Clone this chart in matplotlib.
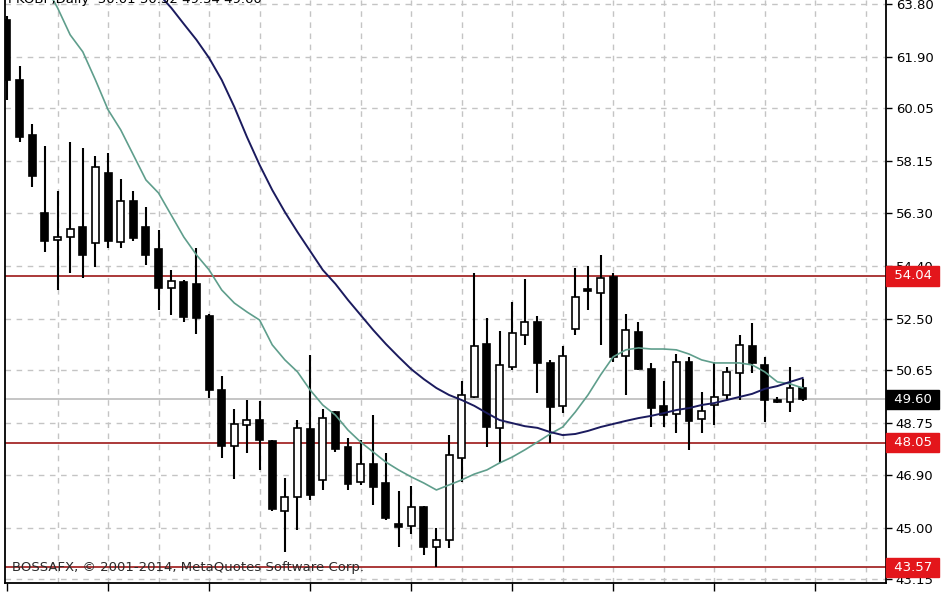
import matplotlib
matplotlib.use("Agg")
import matplotlib.pyplot as plt
import matplotlib.transforms as mtransforms

# daily candles
opens = [63.23, 61.07, 59.09, 56.30, 55.33, 55.43, 55.79, 55.22, 57.73, 55.25,
         56.73, 55.79, 55.00, 53.60, 53.82, 53.75, 52.60, 49.94, 47.93, 48.68,
         48.86, 48.11, 45.60, 46.10, 48.54, 46.71, 49.15, 47.89, 46.64, 47.28,
         46.60, 45.13, 45.06, 45.74, 44.30, 44.55, 47.50, 49.69, 51.59, 48.58,
         50.77, 51.92, 52.38, 50.91, 49.37, 52.13, 53.57, 53.42, 54.00, 51.16,
         52.02, 50.69, 49.37, 49.08, 50.95, 48.90, 49.40, 49.76, 50.55, 51.52,
         50.84, 49.56, 49.51, 50.01]
highs = [63.35, 61.57, 59.49, 58.70, 57.09, 58.84, 58.63, 58.34, 58.45, 57.52,
         57.09, 56.51, 55.69, 54.25, 53.89, 55.04, 52.65, 50.44, 49.26, 49.58,
         49.55, 48.15, 46.78, 48.86, 51.20, 49.26, 49.20, 48.22, 48.14, 49.04,
         47.68, 46.31, 46.49, 45.78, 44.98, 48.32, 50.26, 54.14, 52.53, 52.06,
         53.10, 53.93, 52.60, 51.02, 51.52, 54.32, 54.39, 54.79, 54.14, 52.67,
         52.38, 50.91, 50.26, 51.23, 51.13, 49.87, 50.95, 50.77, 51.91, 52.35,
         51.13, 49.69, 50.77, 50.32]
lows = [60.35, 58.84, 57.23, 54.90, 53.53, 54.14, 53.96, 54.36, 55.04, 55.04,
        55.29, 54.43, 52.81, 52.63, 52.38, 51.95, 49.65, 47.50, 46.74, 47.68,
        47.07, 45.60, 44.12, 44.91, 45.99, 46.35, 47.71, 46.35, 46.53, 45.81,
        45.27, 44.30, 44.77, 44.02, 43.59, 44.27, 46.64, 49.65, 47.89, 47.32,
        50.66, 51.56, 49.83, 48.04, 49.11, 51.91, 52.81, 51.56, 50.95, 49.76,
        50.66, 48.61, 48.61, 48.40, 47.79, 48.40, 48.68, 49.58, 49.58, 50.55,
        48.79, 49.47, 49.15, 49.54]
closes = [61.07, 59.02, 57.62, 55.29, 55.43, 55.72, 54.79, 57.95, 55.29, 56.73,
          55.40, 54.79, 53.60, 53.85, 52.56, 52.53, 49.94, 47.93, 48.72, 48.86,
          48.14, 45.67, 46.10, 48.58, 46.17, 48.93, 47.82, 46.56, 47.28, 46.46,
          45.34, 45.02, 45.74, 44.30, 44.55, 47.61, 49.76, 51.52, 48.61, 50.84,
          51.99, 52.38, 50.91, 49.33, 51.16, 53.28, 53.50, 53.96, 51.13, 52.09,
          50.69, 49.29, 49.04, 50.95, 48.83, 49.19, 49.69, 50.59, 51.56, 50.91,
          49.58, 49.52, 50.01, 49.60]

# moving averages as they appear on the chart
fast_ma_start = 3
fast_ma = [64.48, 63.66, 62.69, 62.08, 61.07, 60.00, 59.28, 58.38, 57.48, 57.01,
           56.22, 55.43, 54.79, 54.25, 53.53, 53.06, 52.74, 52.45, 51.56, 51.02,
           50.59, 49.94, 49.40, 49.04, 48.50, 48.07, 47.71, 47.35, 47.07, 46.82,
           46.60, 46.35, 46.53, 46.71, 46.92, 47.07, 47.32, 47.53, 47.79, 48.07,
           48.36, 48.61, 49.15, 49.76, 50.48, 51.13, 51.38, 51.45, 51.41, 51.41,
           51.38, 51.23, 51.02, 50.91, 50.91, 50.91, 50.84, 50.59, 50.23, 50.16,
           50.01]
slow_ma_start = 12
slow_ma = [64.16, 63.66, 63.08, 62.51, 61.86, 61.07, 60.10, 59.02, 58.02, 57.12,
           56.33, 55.61, 54.93, 54.25, 53.75, 53.17, 52.63, 52.09, 51.59, 51.13,
           50.69, 50.33, 50.01, 49.76, 49.58, 49.37, 49.11, 48.86, 48.75, 48.64,
           48.58, 48.43, 48.32, 48.36, 48.47, 48.61, 48.72, 48.83, 48.93, 49.01,
           49.11, 49.22, 49.29, 49.40, 49.47, 49.58, 49.69, 49.80, 49.98, 50.08,
           50.23, 50.37]

price_ticks = [43.15, 45.00, 46.90, 48.75, 50.65, 52.50, 54.40, 56.30, 58.15,
               60.05, 61.90, 63.80]
levels = [54.04, 48.05, 43.57]
last_price = 49.60

fig = plt.figure(figsize=(9.48, 5.93), dpi=100)
ax = fig.add_axes([5 / 948, 1 - 583 / 593, 881 / 948, 583 / 593])
ax.set_xlim(-0.16, 69.6)
ax.set_ylim(43.01, 63.94)

# grid
for p in price_ticks:
    ax.axhline(p, color="#c4c4c4", lw=1, ls=(0, (4, 4)), zorder=0)
for g in range(4, 70, 4):
    ax.axvline(g, color="#c4c4c4", lw=1, ls=(0, (4, 4)), zorder=0)

# support / resistance and last price
for lv in levels:
    ax.axhline(lv, color="#a52a2a", lw=1.3, zorder=1)
ax.axhline(last_price, color="#c0c0c0", lw=1.3, zorder=1)

# candles
idx = list(range(len(opens)))
ax.vlines(idx, lows, highs, color="black", lw=1.5, zorder=2)
bottoms = [min(o, c) for o, c in zip(opens, closes)]
heights = [max(abs(c - o), 0.05) for o, c in zip(opens, closes)]
faces = ["white" if c > o else "black" for o, c in zip(opens, closes)]
ax.bar(idx, heights, bottom=bottoms, width=0.55, color=faces,
       edgecolor="black", linewidth=1.2, zorder=3)

# moving averages
ax.plot(range(fast_ma_start, fast_ma_start + len(fast_ma)), fast_ma,
        color="#5f9e8c", lw=1.2, zorder=4)
ax.plot(range(slow_ma_start, slow_ma_start + len(slow_ma)), slow_ma,
        color="#1b1b5e", lw=1.4, zorder=4)

# axes look
ax.spines["top"].set_visible(False)
for side in ["left", "right", "bottom"]:
    ax.spines[side].set_color("black")
    ax.spines[side].set_linewidth(1.3)
ax.yaxis.tick_right()
ax.set_yticks(price_ticks)
ax.set_yticklabels([f"{p:.2f}" for p in price_ticks])
ax.tick_params(axis="y", direction="out", length=4, width=1, labelsize=9.5,
               pad=3, colors="black")
ax.set_xticks(range(0, 70, 8))
ax.set_xticklabels([])
ax.tick_params(axis="x", direction="out", length=6, width=1)

trans = mtransforms.blended_transform_factory(ax.transAxes, ax.transData)
for lv in levels:
    ax.text(1.004, lv, f" {lv:.2f} ", transform=trans, ha="left", va="center",
            fontsize=9.5, color="white", zorder=10, clip_on=False,
            bbox=dict(boxstyle="square,pad=0.25", facecolor="#e3161b",
                      edgecolor="#e3161b"))
ax.text(1.004, last_price, f" {last_price:.2f} ", transform=trans, ha="left",
        va="center", fontsize=9.5, color="white", zorder=10, clip_on=False,
        bbox=dict(boxstyle="square,pad=0.25", facecolor="black",
                  edgecolor="black"))

ax.text(0.008, 43.57, "BOSSAFX, \u00a9 2001-2014, MetaQuotes Software Corp.",
        transform=trans, ha="left", va="center", fontsize=9.5,
        color="#2a2a2a", zorder=6)
fig.text(0.008, 1 + 1 / 593, "PKOBP,Daily  50.01 50.32 49.54 49.60",
         ha="left", va="center", fontsize=9.5, color="black")

fig.savefig("out.png", dpi=100)
